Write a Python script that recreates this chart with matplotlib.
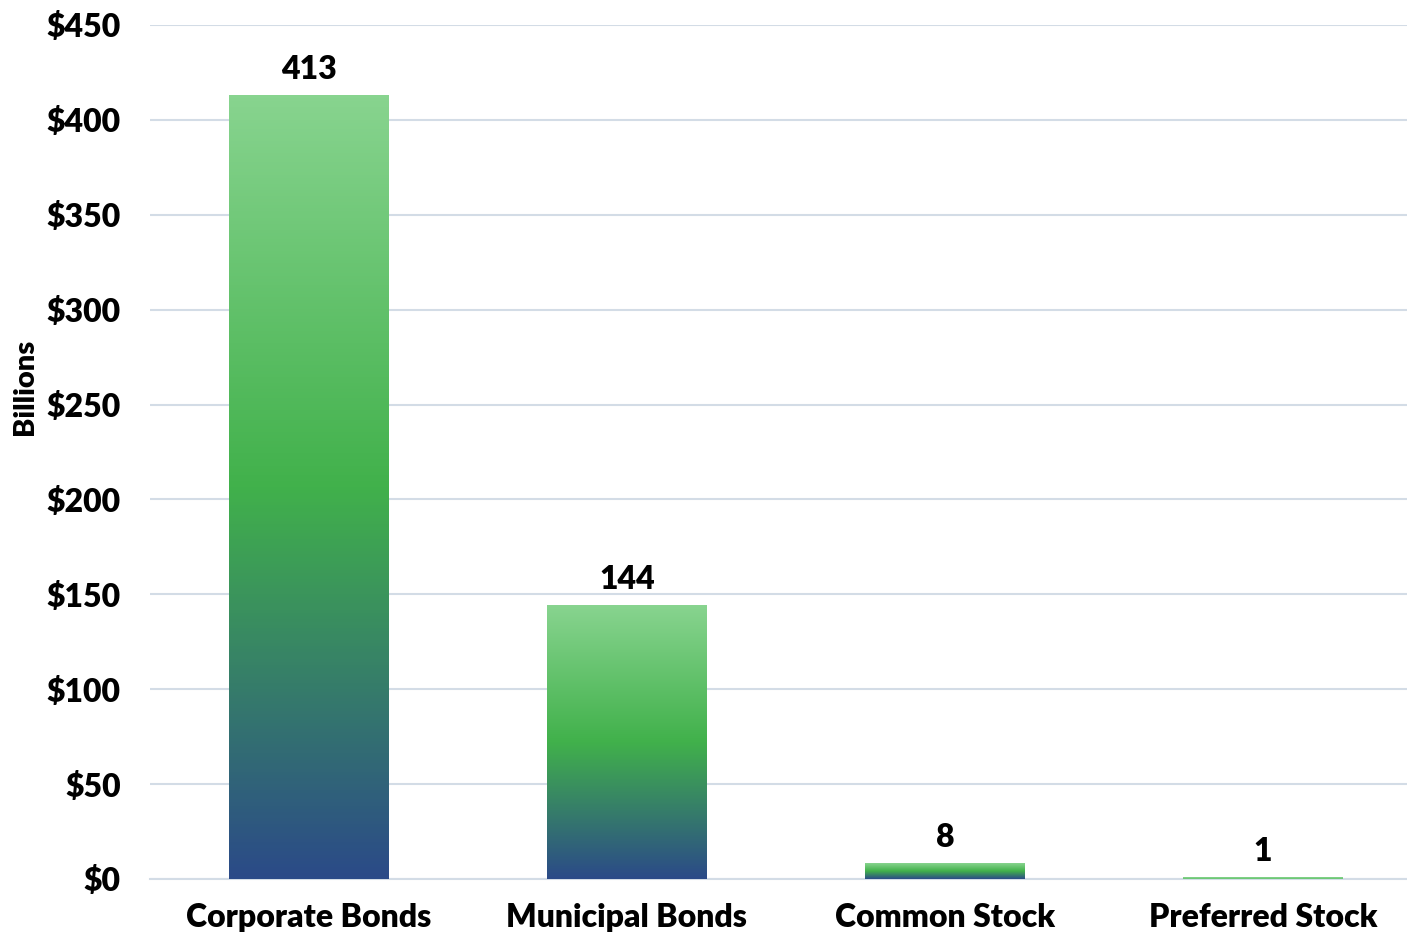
import numpy as np
import matplotlib.pyplot as plt
from matplotlib.colors import LinearSegmentedColormap

# Outstanding issuance by security type, in billions of dollars
categories = ["Corporate Bonds", "Municipal Bonds", "Common Stock", "Preferred Stock"]
values = [413, 144, 8, 1]
y_ticks = [0, 50, 100, 150, 200, 250, 300, 350, 400, 450]

plt.rcParams['font.family'] = ['Lato', 'DejaVu Sans']

fig = plt.figure(figsize=(14.07, 9.32), dpi=100)
ax = fig.add_axes([150 / 1407, 53 / 932, 1257 / 1407, 854 / 932])

# blue at the base -> green mid -> pale green at the top of each bar
grad = LinearSegmentedColormap.from_list(
    "bar_grad", [(0.0, "#2b4a88"), (0.5, "#41b14b"), (1.0, "#88d48f")])

width = 0.503
x = np.arange(len(categories))
bars = ax.bar(x, values, width=width, color="none", zorder=3)
for rect, v in zip(bars, values):
    x0 = rect.get_x()
    # very short bars only show the top colour
    lo = 0.0 if v > 5 else 0.75
    ax.imshow(np.linspace(lo, 1, 256).reshape(-1, 1), cmap=grad, vmin=0, vmax=1,
              origin="lower", aspect="auto",
              extent=(x0, x0 + width, 0, v), zorder=3)
    ax.text(rect.get_x() + width / 2, v + 6, f"{v}", ha="center", va="bottom",
            fontsize=23, fontweight="heavy", color="black")

ax.set_xlim(-0.5, 3.453)
ax.set_ylim(0, 450)
ax.set_yticks(y_ticks)
ax.set_yticklabels([f"${t}" for t in y_ticks])
ax.set_xticks(x)
ax.set_xticklabels(categories)

ax.grid(axis="y", color="#d3dce6", linewidth=1.5, zorder=0)
ax.set_axisbelow(True)
for side in ["top", "right", "left"]:
    ax.spines[side].set_visible(False)
ax.spines["bottom"].set_color("#d3dce6")
ax.spines["bottom"].set_linewidth(1.5)

ax.tick_params(axis="both", length=0, labelsize=23)
ax.tick_params(axis="y", pad=21)
ax.tick_params(axis="x", pad=17)
for lab in ax.get_xticklabels() + ax.get_yticklabels():
    lab.set_fontweight("heavy")

ax.set_ylabel("Billions", fontsize=21, fontweight="heavy")
ax.yaxis.set_label_coords(-0.089, 0.576)

fig.savefig("out.png", dpi=100)
